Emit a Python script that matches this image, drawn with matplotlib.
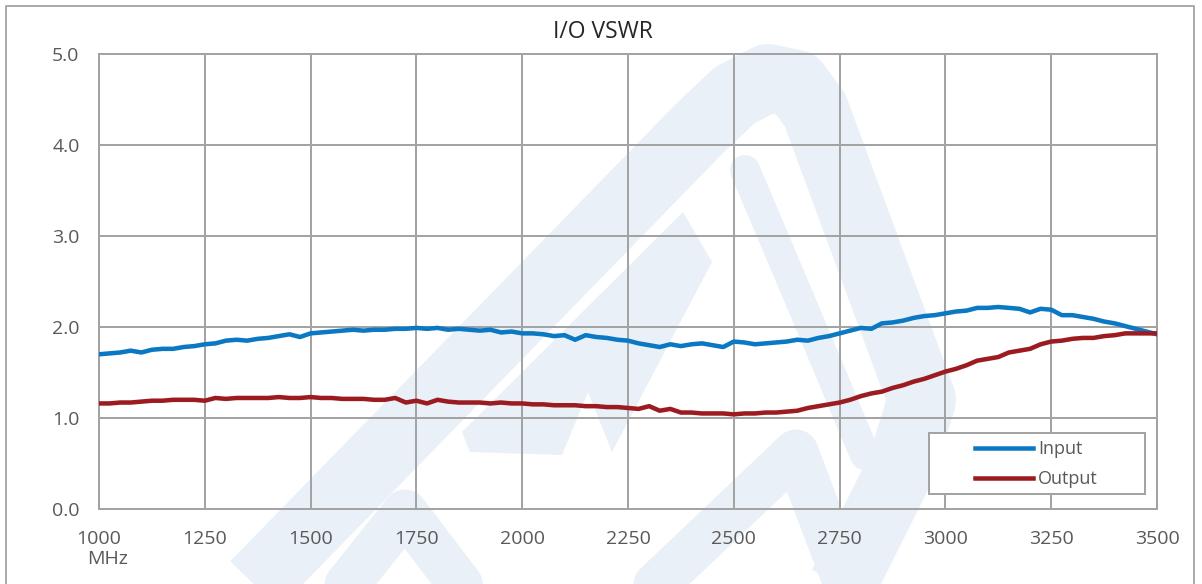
import numpy as np
import matplotlib
matplotlib.use('Agg')
import matplotlib.pyplot as plt
from matplotlib.lines import Line2D
from matplotlib.patches import Polygon, Rectangle

# frequency axis, MHz (25 MHz steps)
freq = np.arange(1000, 3501, 25)

vswr_input = [
    1.70, 1.71, 1.72, 1.74, 1.72, 1.75, 1.76, 1.76, 1.78, 1.79,
    1.81, 1.82, 1.85, 1.86, 1.85, 1.87, 1.88, 1.90, 1.92, 1.89,
    1.93, 1.94, 1.95, 1.96, 1.97, 1.96, 1.97, 1.97, 1.98, 1.98,
    1.99, 1.98, 1.99, 1.97, 1.98, 1.97, 1.96, 1.97, 1.94, 1.95,
    1.93, 1.93, 1.92, 1.90, 1.91, 1.86, 1.91, 1.89, 1.88, 1.86,
    1.85, 1.82, 1.80, 1.78, 1.81, 1.79, 1.81, 1.82, 1.80, 1.78,
    1.84, 1.83, 1.81, 1.82, 1.83, 1.84, 1.86, 1.85, 1.88, 1.90,
    1.93, 1.96, 1.99, 1.98, 2.04, 2.05, 2.07, 2.10, 2.12, 2.13,
    2.15, 2.17, 2.18, 2.21, 2.21, 2.22, 2.21, 2.20, 2.16, 2.20,
    2.19, 2.13, 2.13, 2.11, 2.09, 2.06, 2.04, 2.01, 1.98, 1.95,
    1.92,
]

vswr_output = [
    1.16, 1.16, 1.17, 1.17, 1.18, 1.19, 1.19, 1.20, 1.20, 1.20,
    1.19, 1.22, 1.21, 1.22, 1.22, 1.22, 1.22, 1.23, 1.22, 1.22,
    1.23, 1.22, 1.22, 1.21, 1.21, 1.21, 1.20, 1.20, 1.22, 1.17,
    1.19, 1.16, 1.20, 1.18, 1.17, 1.17, 1.17, 1.16, 1.17, 1.16,
    1.16, 1.15, 1.15, 1.14, 1.14, 1.14, 1.13, 1.13, 1.12, 1.12,
    1.11, 1.10, 1.13, 1.08, 1.10, 1.06, 1.06, 1.05, 1.05, 1.05,
    1.04, 1.05, 1.05, 1.06, 1.06, 1.07, 1.08, 1.11, 1.13, 1.15,
    1.17, 1.20, 1.24, 1.27, 1.29, 1.33, 1.36, 1.40, 1.43, 1.47,
    1.51, 1.54, 1.58, 1.63, 1.65, 1.67, 1.72, 1.74, 1.76, 1.81,
    1.84, 1.85, 1.87, 1.88, 1.88, 1.90, 1.91, 1.93, 1.93, 1.93,
    1.93,
]

x_ticks = [1000, 1250, 1500, 1750, 2000, 2250, 2500, 2750, 3000, 3250, 3500]
y_ticks = [0, 1, 2, 3, 4, 5]
series_names = ["Input", "Output"]
series_colors = ["#0a78c2", "#9c1b20"]

W, H = 1202, 584
FONT = "Open Sans"
GRID = "#a3a3a3"
TEXT = "#595959"
WM = "#e9f0f8"


def fx(px):
    return px / W


def fy(py):
    return 1 - py / H


def lw_px(px):
    return px * 72 / 100


fig = plt.figure(figsize=(W / 100, H / 100), dpi=100)
fig.patch.set_facecolor("white")

# faint logo watermark behind the chart
ring = [(240, 600), (700, 128), (735, 95), (768, 78), (796, 84), (815, 110),
        (922, 400), (900, 470), (835, 600)]
fig.add_artist(Line2D([fx(p[0]) for p in ring], [fy(p[1]) for p in ring],
                      transform=fig.transFigure, color=WM, lw=lw_px(68),
                      solid_joinstyle="round", solid_capstyle="butt", zorder=-5))
chevron = [(462, 432), (683, 212), (712, 262), (612, 452), (588, 392), (562, 455), (470, 452)]
fig.add_artist(Polygon([(fx(a), fy(b)) for a, b in chevron], closed=True,
                       transform=fig.transFigure, facecolor=WM, edgecolor="none", zorder=-5))
for path, w in [([(640, 600), (796, 452), (852, 600)], 45),
                ([(335, 600), (405, 512), (472, 600)], 45),
                ([(745, 170), (800, 300), (865, 455)], 30)]:
    fig.add_artist(Line2D([fx(p[0]) for p in path], [fy(p[1]) for p in path],
                          transform=fig.transFigure, color=WM, lw=lw_px(w),
                          solid_joinstyle="round", solid_capstyle="round", zorder=-5))

# outer chart border
fig.add_artist(Line2D([fx(6), fx(6), fx(1194), fx(1194)], [fy(600), fy(6), fy(6), fy(600)],
                      transform=fig.transFigure, color=GRID, lw=1.3, zorder=-4))

ax = fig.add_axes([fx(99), fy(509), fx(1157) - fx(99), fy(54) - fy(509)])
ax.set_facecolor("none")

for vals, name, col in zip([vswr_input, vswr_output], series_names, series_colors):
    ax.plot(freq, vals, color=col, lw=lw_px(4.5), label=name, solid_joinstyle="round", zorder=3)

ax.set_xlim(1000, 3500)
ax.set_ylim(0, 5)
ax.set_xticks(x_ticks)
ax.set_yticks(y_ticks)
ax.set_xticklabels([str(t) for t in x_ticks])
ax.set_yticklabels([f"{t:.1f}" for t in y_ticks])
ax.tick_params(length=0, labelsize=14, labelcolor=TEXT)
ax.tick_params(axis="y", pad=14)
ax.tick_params(axis="x", pad=15)
for lab in ax.get_xticklabels() + ax.get_yticklabels():
    lab.set_fontfamily(FONT)
ax.grid(True, color=GRID, lw=lw_px(2))
for s in ax.spines.values():
    s.set_color(GRID)
    s.set_linewidth(lw_px(2))

fig.text(fx(603), fy(32), "I/O VSWR", ha="center", va="center",
         fontsize=16.5, color="#262626", family=FONT)
fig.text(fx(108), fy(559), "MHz", ha="center", va="center",
         fontsize=14, color=TEXT, family=FONT)

# legend box
fig.add_artist(Rectangle((fx(929), fy(494)), fx(1145) - fx(929), fy(433) - fy(494),
                         transform=fig.transFigure, facecolor="white",
                         edgecolor=GRID, lw=lw_px(2), zorder=4))
handles, labels = ax.get_legend_handles_labels()
leg = fig.legend(handles, labels, loc="center left", bbox_to_anchor=(fx(975), fy(464)),
                 frameon=False, borderpad=0, borderaxespad=0, handlelength=3.2,
                 handletextpad=0.3, labelspacing=0.65,
                 prop={"family": FONT, "size": 13})
leg.set_zorder(6)
for t in leg.get_texts():
    t.set_color(TEXT)

fig.savefig("out.png", dpi=100)
